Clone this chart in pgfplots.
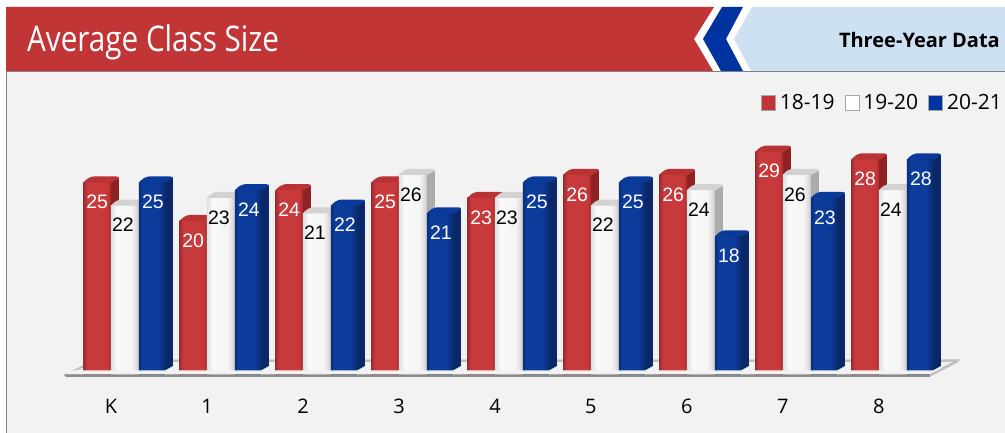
\documentclass[border=0pt]{standalone}
\usepackage{fontspec}
\setmainfont{Open Sans}
\newfontfamily\barfont{Liberation Sans}
\newfontfamily\titlefont[FakeStretch=0.84]{Open Sans}
\usepackage{pgfplots}
\usepackage{pgfplotstable}
\pgfplotsset{compat=1.18}

% pixel scale: one px of the reference is 1pt here
\definecolor{hdred}{HTML}{C23537}
\definecolor{hdblue}{HTML}{0033A0}
\definecolor{hdlight}{HTML}{CDE1F3}
\definecolor{panel}{HTML}{F2F2F2}
\definecolor{redside}{HTML}{8E2224}
\definecolor{redcap}{HTML}{B93234}
\definecolor{whiteside}{HTML}{ABABAB}
\definecolor{whitecap}{HTML}{D2D2D2}
\definecolor{blueside}{HTML}{0A2766}
\definecolor{bluecap}{HTML}{0A3A9A}

% 25bp and 75bp are the left and right edge of the bar
\pgfdeclarehorizontalshading{redbar}{100bp}{
  rgb(0bp)=(.62,.17,.18); rgb(25bp)=(.62,.17,.18); rgb(32bp)=(.79,.23,.24); rgb(68bp)=(.78,.22,.23); rgb(75bp)=(.66,.17,.18); rgb(100bp)=(.66,.17,.18)}
\pgfdeclarehorizontalshading{whitebar}{100bp}{
  rgb(0bp)=(.88,.88,.88); rgb(25bp)=(.88,.88,.88); rgb(35bp)=(.98,.98,.98); rgb(62bp)=(.96,.96,.96); rgb(75bp)=(.80,.80,.80); rgb(100bp)=(.80,.80,.80)}
\pgfdeclarehorizontalshading{bluebar}{100bp}{
  rgb(0bp)=(.04,.18,.50); rgb(25bp)=(.04,.18,.50); rgb(33bp)=(.05,.24,.62); rgb(62bp)=(.05,.23,.60); rgb(75bp)=(.04,.17,.46); rgb(100bp)=(.04,.17,.46)}

% top of a bar: lid and side, #2 and #3 are front left and right seen from the tick
\newcommand\declarecap[5]{%
  \pgfdeclareplotmark{#1}{%
    \pgfsetlinewidth{0pt}%
    \pgfsetfillcolor{#5}\pgfsetstrokecolor{#5}%
    \pgfpathmoveto{\pgfpoint{#3pt}{0pt}}%
    \pgfpathlineto{\pgfpoint{#3pt+8pt}{5pt}}%
    \pgfpathlineto{\pgfpoint{#3pt+8pt}{-3pt}}%
    \pgfpathlineto{\pgfpoint{#3pt}{-3pt}}%
    \pgfpathclose\pgfusepath{fill}%
    \pgfsetfillcolor{#4}\pgfsetstrokecolor{#4}%
    \pgfpathmoveto{\pgfpoint{#2pt}{0pt}}%
    \pgfpathcurveto{\pgfpoint{#2pt+3pt}{3.5pt}}{\pgfpoint{#2pt+6pt}{5.5pt}}{\pgfpoint{#2pt+10pt}{6pt}}%
    \pgfpathlineto{\pgfpoint{#3pt+5pt}{6pt}}%
    \pgfpathcurveto{\pgfpoint{#3pt+7pt}{6pt}}{\pgfpoint{#3pt+8pt}{5.5pt}}{\pgfpoint{#3pt+8pt}{4pt}}%
    \pgfpathlineto{\pgfpoint{#3pt}{0pt}}%
    \pgfpathclose\pgfusepath{fill}%
  }%
}
\declarecap{capred}{-27.5}{0}{redcap}{redside}
\declarecap{capwhite}{0}{28}{whitecap}{whiteside}
\declarecap{capblue}{28}{54}{bluecap}{blueside}

\pgfplotstableread{
x  a  b  c
0  25 22 25
1  20 23 24
2  24 21 22
3  25 26 21
4  23 23 25
5  26 22 25
6  26 24 18
7  29 26 23
8  28 24 28
}\classsize

\pgfplotsset{
  panelaxis/.style={
    at={(0pt,58pt)}, anchor=south west,
    scale only axis, width=1005pt, height=308pt,
    xmin=-1.15625, xmax=9.3125,
    ymin=0, ymax=40,
    axis x line=bottom, axis y line=none,
    axis line style={draw=none},
    major tick length=0pt,
    clip=false,
  },
  num/.style n args={2}{draw=none, mark=none, forget plot,
    nodes near coords, point meta=explicit symbolic,
    every node near coord/.append style={font=\barfont\fontsize{19.5}{19.5}\selectfont,
      anchor=center, xshift=#1pt, yshift=-19.5pt, inner sep=0pt, text=#2}},
  swatch/.style={legend image code/.code={%
    \draw[draw=black!35, fill=#1, line width=.8pt] (0pt,-7.5pt) rectangle (14pt,7pt);}},
}

% column, front width, front shift, shading, side shift, side colour, mark
\newcommand\barseries[7]{%
  \addplot[ybar, bar width=8pt, bar shift=#5pt, draw=none, fill=#6, forget plot]
    table[x=x,y=#1] {\classsize};
  \pgfplotsinvokeforeach{0,...,8}{%
    \addplot[ybar, bar width=#2pt, bar shift=#3pt, draw=none, shade, shading=#4, forget plot,
      restrict x to domain=##1:##1] table[x=x,y=#1] {\classsize};
  }
  \addplot[only marks, mark=#7, forget plot] table[x=x,y=#1] {\classsize};
}

\begin{document}
\begin{tikzpicture}[x=1pt,y=1pt]
\useasboundingbox (0,0) rectangle (1005,433);
\fill[white] (0,0) rectangle (1005,433);
% panel and header, drawn from the top left in px
\begin{scope}[shift={(0,433)},y=-1pt]
  \fill[panel] (6,71) rectangle (1005,433);
  \draw[black!50, line width=.8pt] (6.5,71) -- (6.5,433);
  \fill[hdred] (6,7) -- (714,7) -- (694,39) -- (713,71) -- (6,71) -- cycle;
  \fill[hdblue] (722,7) -- (743,7) -- (726,39) -- (743,71) -- (721,71) -- (703,39) -- cycle;
  \fill[hdlight] (752,7) -- (1005,7) -- (1005,71) -- (751,71) -- (734,39) -- cycle;
  \draw[black!50, line width=.8pt] (6,71.5) -- (1005,71.5);
  \node[anchor=base west, text=white, font=\titlefont\fontsize{35.3}{35}\selectfont, inner sep=0pt] at (27,52) {Average Class Size};
  \node[anchor=base east, text=black, font=\bfseries\fontsize{20}{20}\selectfont, inner sep=0pt] at (1000,48) {Three-Year Data};
  % floor behind the bars
  \fill[black!25] (64,375) -- (94,359.5) -- (961,359.5) -- (930,376) -- cycle;
  \fill[panel] (69,374) -- (96,362) -- (953,362) -- (929,374) -- cycle;
\end{scope}
% one axis per series: red under white under blue
\begin{axis}[panelaxis, xtick=\empty]
\barseries{a}{27.5}{-13.75}{redbar}{4}{redside}{capred}
\end{axis}
\begin{axis}[panelaxis, xtick=\empty]
\barseries{b}{28}{14}{whitebar}{32}{whiteside}{capwhite}
\end{axis}
\begin{axis}[panelaxis,
  xtick={0,...,8}, xticklabels={K,1,2,3,4,5,6,7,8},
  xticklabel style={font=\fontsize{20}{20}\selectfont, text=black, yshift=-21pt,
    text height=14pt, text depth=0pt},
  legend columns=3,
  legend cell align=left,
  legend style={at={(1004pt,283pt)}, anchor=north east, draw=none, fill=none,
    font=\fontsize{21}{21}\selectfont, inner sep=0pt, /tikz/every even column/.style={column sep=8pt},
    /tikz/every odd column/.style={column sep=2pt}},
]
\barseries{c}{26}{41}{bluebar}{58}{blueside}{capblue}
% value labels
\addplot[num={-13.75}{white}] table[x=x,y=a,meta=a] {\classsize};
\addplot[num={12}{black}] table[x=x,y=b,meta=b] {\classsize};
\addplot[num={42}{white}] table[x=x,y=c,meta=c] {\classsize};
\addlegendimage{swatch=hdred}\addlegendentry{18-19}
\addlegendimage{swatch=white}\addlegendentry{19-20}
\addlegendimage{swatch=hdblue}\addlegendentry{20-21}
\end{axis}
% front lip of the floor, over the feet of the bars
\begin{scope}[shift={(0,433)},y=-1pt]
  \foreach \i in {0,...,8} {
    \fill[panel] ({165+96*\i},370.5) -- ({174+96*\i},365.5) -- ({174+96*\i},376) -- ({165+96*\i},376) -- cycle;
  }
  \fill[panel] (70,370.5) -- (945,370.5) -- (930,374.5) -- (64,374.5) -- cycle;
  \fill[black!45] (64,374.5) -- (930,374.5) -- (930,377) -- (66,377) -- cycle;
  \draw[black!25, line width=2.2pt] (930,375.5) -- (958,361);
\end{scope}
\end{tikzpicture}
\end{document}
